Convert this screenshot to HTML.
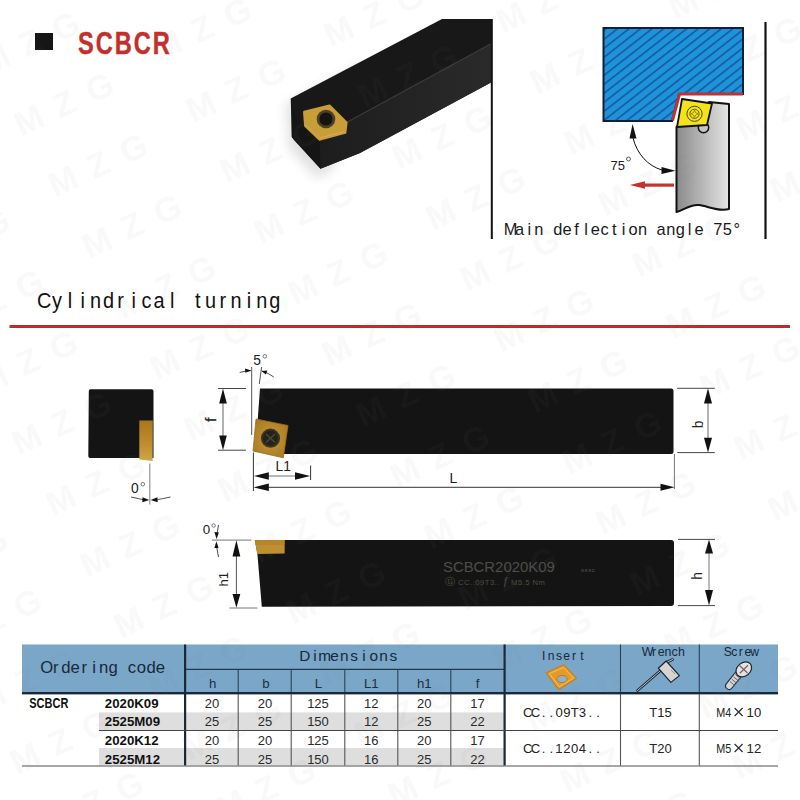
<!DOCTYPE html>
<html><head><meta charset="utf-8">
<style>
html,body{margin:0;padding:0;background:#fff;}
body{width:800px;height:800px;overflow:hidden;position:relative;font-family:"Liberation Sans",sans-serif;}
svg{position:absolute;left:0;top:0;}
</style></head><body>
<svg width="800" height="800" viewBox="0 0 800 800" font-family="Liberation Sans, sans-serif">
<defs>
  <pattern id="hatch" patternUnits="userSpaceOnUse" width="7.1" height="7.1" patternTransform="translate(603,30) rotate(52)">
    <rect width="7.1" height="7.1" fill="#1d93dc"/>
    <line x1="0.8" y1="0" x2="0.8" y2="7.1" stroke="#154c8c" stroke-width="1.3"/>
  </pattern>
  <linearGradient id="toolgray" x1="0" y1="0" x2="1" y2="0">
    <stop offset="0" stop-color="#8a8a8a"/>
    <stop offset="0.5" stop-color="#b8b8b8"/>
    <stop offset="1" stop-color="#e4e4e4"/>
  </linearGradient>
  <linearGradient id="gold1" x1="0" y1="0" x2="0" y2="1">
    <stop offset="0" stop-color="#a8781c"/>
    <stop offset="1" stop-color="#c89a3a"/>
  </linearGradient>
  <marker id="ah" viewBox="0 0 16 8" refX="16" refY="4" markerWidth="16" markerHeight="8" markerUnits="userSpaceOnUse" orient="auto-start-reverse">
    <path d="M0,0 L16,4 L0,8 z" fill="#111"/>
  </marker>
</defs>

<!-- ===== Title ===== -->
<rect x="35" y="33" width="18" height="17" fill="#161616"/>
<text transform="translate(78,53.5) scale(0.775,1)" font-size="30.5" font-weight="bold" fill="#c3302c" stroke="#c3302c" stroke-width="0.4" letter-spacing="2.5">SCBCR</text>

<!-- ===== 3D tool ===== -->
<defs>
  <linearGradient id="sideface" x1="0" y1="0" x2="1" y2="0">
    <stop offset="0" stop-color="#1d1d1d"/>
    <stop offset="1" stop-color="#2a2a2a"/>
  </linearGradient>
  <radialGradient id="shadow3d" cx="0.5" cy="0.5" r="0.5">
    <stop offset="0" stop-color="#000" stop-opacity="0.10"/>
    <stop offset="1" stop-color="#000" stop-opacity="0"/>
  </radialGradient>
</defs>
<g>
  <filter id="blur6" x="-20%" y="-20%" width="140%" height="140%"><feGaussianBlur stdDeviation="6"/></filter>
  <polygon points="286,104 360,66 380,72 330,172 316,178 289,148" fill="#000" opacity="0.12" filter="url(#blur6)"/>
  <!-- silhouette / top face -->
  <polygon points="290.7,98.4 442,19 491,19 491,82.5 360,153 320.5,168.7 294.6,140.6 291.8,137" fill="#181818"/>
  <!-- side face -->
  <polygon points="346.5,122.6 491,43.8 491,82.5 360,153 320.5,168.7 319.5,139.5 345.2,132.7" fill="url(#sideface)"/>
  <!-- end face lower part -->
  <polygon points="291.8,112 305.3,126 319.5,139.5 320.5,168.7 294.6,140.6 291.8,137" fill="#151515"/>
  <line x1="346.5" y1="122.6" x2="491" y2="43.8" stroke="#3c3c3c" stroke-width="1.1"/>
  <!-- insert -->
  <path d="M304.2,112 L329.5,105.7 L346.4,122.6 L345.2,132.7 L319.4,139.5 L305.3,126 z" fill="#c99d38" stroke="#c99d38" stroke-width="2.4" stroke-linejoin="round"/>
  <path d="M306,125 L319.6,138 L344.5,131.5" fill="none" stroke="#d8b050" stroke-width="1"/>
  <circle cx="326" cy="119" r="9.3" fill="#4a4228"/>
  <circle cx="326" cy="119" r="6.6" fill="#161410"/>
</g>

<!-- divider lines -->
<line x1="491.8" y1="19" x2="491.8" y2="239" stroke="#111" stroke-width="2"/>
<line x1="765.5" y1="22" x2="765.5" y2="239" stroke="#111" stroke-width="2.2"/>

<!-- ===== right diagram ===== -->
<g>
  <polygon points="603.5,28 743,28 743,94 679,94 672,121 603.5,121" fill="url(#hatch)" stroke="#0d1f3a" stroke-width="2"/>
  <polyline points="743,94 679.5,94 672.5,120.5" fill="none" stroke="#c03232" stroke-width="3"/>
  <!-- tool body -->
  <path d="M676.5,127 L709,102 L729,104 L729,209 C718,212 708,206 699,205 C690,204 684,210 676.5,212 z" fill="url(#toolgray)" stroke="#111" stroke-width="2" stroke-linejoin="round"/>
  <!-- insert -->
  <circle cx="703.5" cy="127.5" r="5.2" fill="#c4c4c4" stroke="#111" stroke-width="1.5"/>
  <polygon points="682,99 712,103.5 707,125 677,127" fill="#f4e21a" stroke="#111" stroke-width="1.8" stroke-linejoin="round"/>
  <circle cx="694.5" cy="113.8" r="7.6" fill="none" stroke="#3a3a10" stroke-width="0.9"/>
  <circle cx="694.5" cy="113.8" r="4.6" fill="none" stroke="#3a3a10" stroke-width="0.8"/>
  <path d="M694.5,110.2 L695.6,112.6 L698,113.8 L695.6,115 L694.5,117.4 L693.4,115 L691,113.8 L693.4,112.6 z" fill="none" stroke="#5a5a20" stroke-width="0.6"/>
  <!-- angle arc -->
  <path d="M633,138 C637,154 648,166 662,170" fill="none" stroke="#111" stroke-width="1"/>
  <polygon points="632.6,124 629.5,138.5 636.5,138.5" fill="#111"/>
  <polygon points="675.5,170.7 661.5,167 661.5,174" fill="#111"/>
  <text x="610.5" y="169.5" font-size="13" fill="#222">75</text>
  <circle cx="628.5" cy="159" r="2" fill="none" stroke="#333" stroke-width="0.8"/>
  <!-- red arrow -->
  <rect x="644" y="183.5" width="30" height="3.2" fill="#c8322c"/>
  <polygon points="629.8,185 645,181.3 645,188.7" fill="#c8322c"/>
</g>
<text x="503.75 515.10 527.61 534.28 553.32 562.57 574.13 584.13 590.83 600.57 611.88 621.83 628.50 637.91 656.42 666.18 675.80 687.77 694.47 713.29 722.74 733.43" y="235.40" font-size="16.40" fill="#1a1a1a" class="m1">Maindeflectionangle75°</text>

<!-- ===== Cylindrical turning ===== -->
<g transform="scale(0.9000,1)"><text x="41.10 57.90 75.18 89.41 99.91 114.38 130.26 146.25 157.21 170.51 188.88 216.60 227.84 243.95 256.23 274.16 284.66 299.13" y="308.20" font-size="22.10" fill="#111" class="m2">Cylindricalturning</text></g>
<rect x="9.5" y="325" width="780.5" height="3" fill="#b5302c"/>


<!-- ===== Technical drawing ===== -->
<defs>
  <linearGradient id="goldEnd" x1="0" y1="0" x2="0" y2="1">
    <stop offset="0" stop-color="#a9761c"/>
    <stop offset="0.6" stop-color="#c08e30"/>
    <stop offset="1" stop-color="#cfa64a"/>
  </linearGradient>
  <radialGradient id="goldIns" cx="0.5" cy="0.5" r="0.6">
    <stop offset="0" stop-color="#c89a3c"/>
    <stop offset="1" stop-color="#a87a22"/>
  </radialGradient>
</defs>
<g id="endview">
  <path d="M90.5,389.3 L151.5,389.3 Q153.5,389.3 153.5,391.3 L153.5,458 L90,458 Q88.3,458 88.3,456 L88.8,391.3 Q88.8,389.3 90.5,389.3 z" fill="#141414"/>
  <polygon points="139.3,420.5 152.8,420.5 152.6,461 139.3,459.5" fill="url(#goldEnd)"/>
  <line x1="149.8" y1="463.5" x2="149.8" y2="504.5" stroke="#8a8a8a" stroke-width="1.1"/>
  <text x="131" y="493.3" font-size="13.8" fill="#222">0</text>
  <circle cx="142.8" cy="484.2" r="1.8" fill="none" stroke="#444" stroke-width="0.7"/>
  <path d="M131,497 Q140,499 143,499.6" fill="none" stroke="#222" stroke-width="0.8"/>
  <polygon points="149.3,500 142.5,497.3 142.3,502.3" fill="#111"/>
  <path d="M170.5,497 Q161,499 157.5,499.6" fill="none" stroke="#222" stroke-width="0.8"/>
  <polygon points="150.6,500 157.5,497.3 157.7,502.3" fill="#111"/>
</g>

<g id="topview">
  <!-- 5 deg -->
  <text x="253.3" y="364.6" font-size="13.8" fill="#222">5</text>
  <circle cx="264.8" cy="356.3" r="1.8" fill="none" stroke="#444" stroke-width="0.7"/>
  <line x1="251.7" y1="367" x2="251.7" y2="435" stroke="#555" stroke-width="1"/>
  <line x1="261.6" y1="367" x2="259.3" y2="384" stroke="#555" stroke-width="1"/>
  <path d="M239.7,372.5 Q245,370.8 251,370.6" fill="none" stroke="#222" stroke-width="0.8"/>
  <polygon points="251.2,370.6 245,368.6 245.3,372.8" fill="#111"/>
  <path d="M273.8,377 Q268,372.8 261.8,371" fill="none" stroke="#222" stroke-width="0.8"/>
  <polygon points="261.6,370.9 267.3,370.5 265.8,374.5" fill="#111"/>
  <!-- body -->
  <path d="M260,388.5 L671,388.5 Q673.5,388.5 673.5,391 L673.5,451.5 Q673.5,454 671,454 L283,454 L257.7,420 z" fill="#141414"/>
  <!-- insert -->
  <polygon points="256,419 288,425.5 283.3,457.8 253,451" fill="url(#goldIns)" stroke="#9a6e1c" stroke-width="0.8" stroke-linejoin="round"/>
  <circle cx="270.5" cy="438.2" r="9.6" fill="#3b3620"/>
  <circle cx="270.5" cy="438.2" r="7.6" fill="#24231a"/>
  <path d="M266,434 L275,442.4 M275,434 L266,442.4" stroke="#4a4a3a" stroke-width="1.4"/>
  <!-- f dim -->
  <line x1="218" y1="388.5" x2="246" y2="388.5" stroke="#333" stroke-width="0.9"/>
  <line x1="218" y1="450.2" x2="246" y2="450.2" stroke="#333" stroke-width="0.9"/>
  <line x1="223" y1="400" x2="223" y2="440" stroke="#666" stroke-width="1"/>
  <polygon points="223,388.5 219.2,403.6 226.8,403.6" fill="#111"/>
  <polygon points="223,450.2 219.2,435.6 226.8,435.6" fill="#111"/>
  <text transform="translate(215.9,421.8) rotate(-90)" font-size="14.4" fill="#1a1a1a" stroke="#1a1a1a" stroke-width="0.3">f</text>
  <!-- b dim -->
  <line x1="677.2" y1="388.3" x2="714.8" y2="388.3" stroke="#333" stroke-width="0.9"/>
  <line x1="677.2" y1="452.6" x2="714.8" y2="452.6" stroke="#333" stroke-width="0.9"/>
  <line x1="708" y1="400" x2="708" y2="440" stroke="#666" stroke-width="1"/>
  <polygon points="708,388.3 704,403.4 712,403.4" fill="#111"/>
  <polygon points="708,452.6 704,437.8 712,437.8" fill="#111"/>
  <text transform="translate(702.9,428.3) rotate(-90)" font-size="13.8" fill="#222">b</text>
  <!-- L1 / L -->
  <line x1="253.4" y1="452.5" x2="253.4" y2="491" stroke="#333" stroke-width="1"/>
  <line x1="310.6" y1="465.5" x2="310.6" y2="480" stroke="#333" stroke-width="1"/>
  <line x1="265" y1="476" x2="300" y2="476" stroke="#777" stroke-width="1"/>
  <polygon points="253.6,476 268.8,472.3 268.8,479.7" fill="#111"/>
  <polygon points="310.2,476 295,472.3 295,479.7" fill="#111"/>
  <text x="275.6" y="470.7" font-size="13.8" fill="#222">L1</text>
  <line x1="674.4" y1="454" x2="674.4" y2="489" stroke="#777" stroke-width="1"/>
  <line x1="265" y1="487.3" x2="665" y2="487.3" stroke="#333" stroke-width="1"/>
  <polygon points="253.6,487.3 268.8,483.6 268.8,491" fill="#111"/>
  <polygon points="674.6,487.3 660.5,483.8 660.5,490.8" fill="#111"/>
  <text x="449.5" y="482.6" font-size="14" fill="#222">L</text>
</g>

<g id="sideview">
  <text x="202.8" y="534.2" font-size="13.4" fill="#222">0</text>
  <circle cx="213.6" cy="525.5" r="1.7" fill="none" stroke="#444" stroke-width="0.7"/>
  <line x1="218.5" y1="525" x2="216.8" y2="535" stroke="#222" stroke-width="0.8"/>
  <polygon points="216.6,539 214.4,532 218.8,532.4" fill="#111"/>
  <line x1="216.3" y1="545" x2="218.5" y2="557" stroke="#222" stroke-width="0.8"/>
  <polygon points="216.4,541.2 214.4,548 218.6,548" fill="#111"/>
  <line x1="212" y1="540.1" x2="251.3" y2="540.1" stroke="#777" stroke-width="1"/>
  <line x1="229.4" y1="608" x2="257.4" y2="608" stroke="#777" stroke-width="1"/>
  <line x1="236.4" y1="552" x2="236.4" y2="596" stroke="#555" stroke-width="1"/>
  <polygon points="236.4,540.3 232.5,556.4 240.3,556.4" fill="#111"/>
  <polygon points="236.4,607.8 232.5,594 240.3,594" fill="#111"/>
  <text transform="translate(227.7,586.5) rotate(-90)" font-size="13" fill="#222">h1</text>
  <!-- body -->
  <path d="M254.8,540 L671,540 Q674,540 674,543 L674,603 Q674,606 671,606 L261.8,606.8 L257.4,553.7 z" fill="#141414"/>
  <polygon points="254.8,540 284.6,540 284.6,553.4 257.3,554" fill="#c0902e"/>
  <polygon points="254.8,540 284.6,540 284.6,545 256,545" fill="#b08024" opacity="0.6"/>
  <text x="443" y="572.4" font-size="14.9" fill="#4e4e48" letter-spacing="0">SCBCR2020K09</text>
  <text x="581" y="572.3" font-size="6" fill="#55554f" letter-spacing="0.6">sssc</text>
  <text x="445" y="584.5" font-size="7.6" fill="#4e4e40" letter-spacing="0.5"><tspan font-size="10">&#x24BC;</tspan> CC..09T3..  <tspan font-size="10" font-style="italic">&#402;</tspan> M5.5 Nm</text>
  <!-- h dim -->
  <line x1="678" y1="539.4" x2="715" y2="539.4" stroke="#333" stroke-width="0.9"/>
  <line x1="678" y1="605.6" x2="715" y2="605.6" stroke="#333" stroke-width="0.9"/>
  <line x1="709" y1="552" x2="709" y2="592" stroke="#777" stroke-width="1"/>
  <polygon points="709,539.6 705,553.5 713,553.5" fill="#111"/>
  <polygon points="709,605.4 705,590 713,590" fill="#111"/>
  <text transform="translate(702.4,579.8) rotate(-90)" font-size="13.8" fill="#222">h</text>
</g>


<!-- ===== Table ===== -->
<g id="table">
  <rect x="22" y="644.5" width="756" height="49" fill="#7aa6c7"/>
  <rect x="99" y="712.4" width="405.5" height="17.8" fill="#dedede"/>
  <rect x="99" y="748" width="405.5" height="17.6" fill="#dedede"/>
  <!-- header lines -->
  <rect x="22" y="692" width="756" height="2.4" fill="#1b2838"/>
  <line x1="185" y1="669.3" x2="504.5" y2="669.3" stroke="#24384e" stroke-width="1.2"/>
  <!-- thick verticals -->
  <rect x="184" y="644.5" width="2.2" height="121.5" fill="#1b2838"/>
  <rect x="503.5" y="644.5" width="2.2" height="121.5" fill="#1b2838"/>
  <!-- thin verticals in header -->
  <g stroke="#2c4158" stroke-width="1.1">
    <line x1="238.2" y1="669.3" x2="238.2" y2="692"/>
    <line x1="291.2" y1="669.3" x2="291.2" y2="692"/>
    <line x1="344.8" y1="669.3" x2="344.8" y2="692"/>
    <line x1="397.8" y1="669.3" x2="397.8" y2="692"/>
    <line x1="450.8" y1="669.3" x2="450.8" y2="692"/>
    <line x1="620.5" y1="644.5" x2="620.5" y2="692"/>
    <line x1="699.3" y1="644.5" x2="699.3" y2="692"/>
  </g>
  <!-- thin verticals in body -->
  <g stroke="#555" stroke-width="1.1">
    <line x1="238.2" y1="694" x2="238.2" y2="766"/>
    <line x1="291.2" y1="694" x2="291.2" y2="766"/>
    <line x1="344.8" y1="694" x2="344.8" y2="766"/>
    <line x1="397.8" y1="694" x2="397.8" y2="766"/>
    <line x1="450.8" y1="694" x2="450.8" y2="766"/>
    <line x1="620.5" y1="694" x2="620.5" y2="766"/>
    <line x1="699.3" y1="694" x2="699.3" y2="766"/>
  </g>
  <line x1="99" y1="730.5" x2="778" y2="730.5" stroke="#444" stroke-width="1.1"/>
  <line x1="22" y1="766" x2="778" y2="766" stroke="#8a8a8a" stroke-width="1.5"/>

  <!-- header texts -->
  <g fill="#17283c">
    <text x="40.21 52.99 61.21 70.52 81.43 92.26 98.93 108.62 127.73 136.87 146.54 155.85" y="673.30" font-size="16.70" class="m3">Orderingcode</text>
    <text x="299.24 313.16 318.26 330.22 340.00 350.32 362.21 369.44 379.24 389.56" y="661.20" font-size="15.40" class="m4">Dimensions</text>
    <text x="541.88 547.85 555.91 563.19 571.88 580.13" y="659.90" font-size="12.10" class="m5">Insert</text>
    <text x="641.85 652.07 657.74 664.45 671.45 677.91" y="655.50" font-size="12.40" class="m6">Wrench</text>
    <text x="723.65 731.28 738.81 744.48 750.16" y="655.70" font-size="12.20" class="m7">Screw</text>
  </g>
  <g font-size="13.2" fill="#1d2e42" text-anchor="middle">
    <text x="212.6" y="687.8">h</text>
    <text x="265.8" y="687.8">b</text>
    <text x="318.5" y="687.8">L</text>
    <text x="371.3" y="687.8">L1</text>
    <text x="424.3" y="687.8">h1</text>
    <text x="477.6" y="687.8">f</text>
  </g>
  <!-- insert icon -->
  <g>
    <polygon points="563.7,664.7 576.4,678.2 558.9,689.6 546.2,673" fill="#e39a2a" stroke="#c97f16" stroke-width="1.2" stroke-linejoin="round"/>
    <polygon points="563.5,667.5 573.5,678 559.3,686.8 549.3,673.6" fill="none" stroke="#f6c060" stroke-width="1"/>
    <ellipse cx="562" cy="679" rx="5.2" ry="3.6" fill="#8fb2c9" stroke="#b87414" stroke-width="0.8"/>
  </g>
  <!-- wrench icon -->
  <g stroke="#1a2430" stroke-linejoin="round">
    <line x1="637.5" y1="690.5" x2="660" y2="671" stroke="#1a2430" stroke-width="2.6" stroke-linecap="round"/>
    <line x1="637.5" y1="690.5" x2="660" y2="671" stroke="#d8d8d8" stroke-width="0.9" stroke-linecap="round"/>
    <line x1="665" y1="663" x2="672.6" y2="659.5" stroke="#1a2430" stroke-width="2.6" stroke-linecap="round"/>
    <line x1="665" y1="663" x2="672.6" y2="659.5" stroke="#d8d8d8" stroke-width="0.9" stroke-linecap="round"/>
    <polygon points="658.3,668.2 666.2,661 679.4,675.6 670.9,682.4" fill="#d6d3d0" stroke-width="1.2"/>
    <line x1="671" y1="670" x2="675" y2="674" stroke="#888" stroke-width="0.8"/>
  </g>
  <!-- screw icon -->
  <g>
    <line x1="739.5" y1="673" x2="729.2" y2="685.8" stroke="#1f2a36" stroke-width="8.2" stroke-linecap="round"/>
    <line x1="739.5" y1="673" x2="729.2" y2="685.8" stroke="#d9d4d4" stroke-width="6" stroke-linecap="round"/>
    <g stroke="#5a5a66" stroke-width="0.9">
      <line x1="730" y1="681.5" x2="735.2" y2="685.8"/>
      <line x1="731.8" y1="679.2" x2="737" y2="683.5"/>
      <line x1="733.6" y1="676.9" x2="738.8" y2="681.2"/>
      <line x1="735.4" y1="674.6" x2="740.6" y2="678.9"/>
    </g>
    <ellipse cx="743.8" cy="669.4" rx="8.6" ry="6.6" transform="rotate(-40 743.8 669.4)" fill="#e6e2e2" stroke="#1f2a36" stroke-width="1.2"/>
    <path d="M739.5,665.5 L747.5,673 M748,665.2 L739.8,673.2" stroke="#7a6670" stroke-width="1.3"/>
  </g>

  <!-- body texts -->
  <g font-weight="bold" fill="#111">
    <text transform="translate(29.3,708.3) scale(0.79,1)" font-size="13.9">SCBCR</text>
    <text transform="translate(104.8,708.3) scale(1.02,1)" font-size="13">2020K09</text>
    <text transform="translate(104.8,726.4) scale(1.02,1)" font-size="13">2525M09</text>
    <text transform="translate(104.8,745.2) scale(1.02,1)" font-size="13">2020K12</text>
    <text transform="translate(104.8,763.5) scale(1.02,1)" font-size="13">2525M12</text>
  </g>
  <g font-size="13" fill="#2a2a2a" text-anchor="middle">
    <text x="212" y="708.2">20</text><text x="265" y="708.2">20</text><text x="318" y="708.2">125</text><text x="371.3" y="708.2">12</text><text x="424.3" y="708.2">20</text><text x="477.6" y="708.2">17</text>
    <text x="212" y="726.4">25</text><text x="265" y="726.4">25</text><text x="318" y="726.4">150</text><text x="371.3" y="726.4">12</text><text x="424.3" y="726.4">25</text><text x="477.6" y="726.4">22</text>
    <text x="212" y="745.2">20</text><text x="265" y="745.2">20</text><text x="318" y="745.2">125</text><text x="371.3" y="745.2">16</text><text x="424.3" y="745.2">20</text><text x="477.6" y="745.2">17</text>
    <text x="212" y="763.5">25</text><text x="265" y="763.5">25</text><text x="318" y="763.5">150</text><text x="371.3" y="763.5">16</text><text x="424.3" y="763.5">25</text><text x="477.6" y="763.5">22</text>
  </g>
  <g fill="#222">
    <text x="523.03 530.84 541.63 549.44 555.42 563.22 570.67 578.87 588.45 596.26" y="717.00" font-size="13.10" class="m8">CC..09T3..</text>
    <text x="523.03 530.84 541.63 549.44 555.24 563.22 571.02 578.87 588.45 596.26" y="753.00" font-size="13.10" class="m9">CC..1204..</text>
  </g>
  <g font-size="13" fill="#222">
    <text x="649.3" y="717.2">T15</text>
    <text x="649.3" y="753.2">T20</text>
    <text x="716.3" y="716.6" textLength="15" lengthAdjust="spacingAndGlyphs">M4</text><path d="M734.6,708.0 L742.6,716.0 M742.6,708.0 L734.6,716.0" stroke="#2a2a2a" stroke-width="1.15"/><text x="746.6" y="716.6" textLength="14.6" lengthAdjust="spacingAndGlyphs">10</text>
    <text x="716.3" y="752.6" textLength="15" lengthAdjust="spacingAndGlyphs">M5</text><path d="M734.6,744.0 L742.6,752.0 M742.6,744.0 L734.6,752.0" stroke="#2a2a2a" stroke-width="1.15"/><text x="746.6" y="752.6" textLength="14.6" lengthAdjust="spacingAndGlyphs">12</text>
  </g>
</g>

<g id="wm" font-family="Liberation Sans, sans-serif" font-weight="bold" font-size="34" fill="#7a7a7a" opacity="0.050" text-anchor="middle">
<g transform="translate(-4.0,-18.5) rotate(-25)"><text x="-39" y="12">M</text><text x="0" y="12">Z</text><text x="39" y="12">G</text></g>
<g transform="translate(168.0,-32.5) rotate(-25)"><text x="-39" y="12">M</text><text x="0" y="12">Z</text><text x="39" y="12">G</text></g>
<g transform="translate(340.0,-46.5) rotate(-25)"><text x="-39" y="12">M</text><text x="0" y="12">Z</text><text x="39" y="12">G</text></g>
<g transform="translate(30.0,42.5) rotate(-25)"><text x="-39" y="12">M</text><text x="0" y="12">Z</text><text x="39" y="12">G</text></g>
<g transform="translate(202.0,28.5) rotate(-25)"><text x="-39" y="12">M</text><text x="0" y="12">Z</text><text x="39" y="12">G</text></g>
<g transform="translate(374.0,14.5) rotate(-25)"><text x="-39" y="12">M</text><text x="0" y="12">Z</text><text x="39" y="12">G</text></g>
<g transform="translate(546.0,0.5) rotate(-25)"><text x="-39" y="12">M</text><text x="0" y="12">Z</text><text x="39" y="12">G</text></g>
<g transform="translate(718.0,-13.5) rotate(-25)"><text x="-39" y="12">M</text><text x="0" y="12">Z</text><text x="39" y="12">G</text></g>
<g transform="translate(64.0,103.5) rotate(-25)"><text x="-39" y="12">M</text><text x="0" y="12">Z</text><text x="39" y="12">G</text></g>
<g transform="translate(236.0,89.5) rotate(-25)"><text x="-39" y="12">M</text><text x="0" y="12">Z</text><text x="39" y="12">G</text></g>
<g transform="translate(408.0,75.5) rotate(-25)"><text x="-39" y="12">M</text><text x="0" y="12">Z</text><text x="39" y="12">G</text></g>
<g transform="translate(580.0,61.5) rotate(-25)"><text x="-39" y="12">M</text><text x="0" y="12">Z</text><text x="39" y="12">G</text></g>
<g transform="translate(752.0,47.5) rotate(-25)"><text x="-39" y="12">M</text><text x="0" y="12">Z</text><text x="39" y="12">G</text></g>
<g transform="translate(-74.0,178.5) rotate(-25)"><text x="-39" y="12">M</text><text x="0" y="12">Z</text><text x="39" y="12">G</text></g>
<g transform="translate(98.0,164.5) rotate(-25)"><text x="-39" y="12">M</text><text x="0" y="12">Z</text><text x="39" y="12">G</text></g>
<g transform="translate(270.0,150.5) rotate(-25)"><text x="-39" y="12">M</text><text x="0" y="12">Z</text><text x="39" y="12">G</text></g>
<g transform="translate(442.0,136.5) rotate(-25)"><text x="-39" y="12">M</text><text x="0" y="12">Z</text><text x="39" y="12">G</text></g>
<g transform="translate(614.0,122.5) rotate(-25)"><text x="-39" y="12">M</text><text x="0" y="12">Z</text><text x="39" y="12">G</text></g>
<g transform="translate(786.0,108.5) rotate(-25)"><text x="-39" y="12">M</text><text x="0" y="12">Z</text><text x="39" y="12">G</text></g>
<g transform="translate(-40.0,239.5) rotate(-25)"><text x="-39" y="12">M</text><text x="0" y="12">Z</text><text x="39" y="12">G</text></g>
<g transform="translate(132.0,225.5) rotate(-25)"><text x="-39" y="12">M</text><text x="0" y="12">Z</text><text x="39" y="12">G</text></g>
<g transform="translate(304.0,211.5) rotate(-25)"><text x="-39" y="12">M</text><text x="0" y="12">Z</text><text x="39" y="12">G</text></g>
<g transform="translate(476.0,197.5) rotate(-25)"><text x="-39" y="12">M</text><text x="0" y="12">Z</text><text x="39" y="12">G</text></g>
<g transform="translate(648.0,183.5) rotate(-25)"><text x="-39" y="12">M</text><text x="0" y="12">Z</text><text x="39" y="12">G</text></g>
<g transform="translate(820.0,169.5) rotate(-25)"><text x="-39" y="12">M</text><text x="0" y="12">Z</text><text x="39" y="12">G</text></g>
<g transform="translate(-6.0,300.5) rotate(-25)"><text x="-39" y="12">M</text><text x="0" y="12">Z</text><text x="39" y="12">G</text></g>
<g transform="translate(166.0,286.5) rotate(-25)"><text x="-39" y="12">M</text><text x="0" y="12">Z</text><text x="39" y="12">G</text></g>
<g transform="translate(338.0,272.5) rotate(-25)"><text x="-39" y="12">M</text><text x="0" y="12">Z</text><text x="39" y="12">G</text></g>
<g transform="translate(510.0,258.5) rotate(-25)"><text x="-39" y="12">M</text><text x="0" y="12">Z</text><text x="39" y="12">G</text></g>
<g transform="translate(682.0,244.5) rotate(-25)"><text x="-39" y="12">M</text><text x="0" y="12">Z</text><text x="39" y="12">G</text></g>
<g transform="translate(854.0,230.5) rotate(-25)"><text x="-39" y="12">M</text><text x="0" y="12">Z</text><text x="39" y="12">G</text></g>
<g transform="translate(28.0,361.5) rotate(-25)"><text x="-39" y="12">M</text><text x="0" y="12">Z</text><text x="39" y="12">G</text></g>
<g transform="translate(200.0,347.5) rotate(-25)"><text x="-39" y="12">M</text><text x="0" y="12">Z</text><text x="39" y="12">G</text></g>
<g transform="translate(372.0,333.5) rotate(-25)"><text x="-39" y="12">M</text><text x="0" y="12">Z</text><text x="39" y="12">G</text></g>
<g transform="translate(544.0,319.5) rotate(-25)"><text x="-39" y="12">M</text><text x="0" y="12">Z</text><text x="39" y="12">G</text></g>
<g transform="translate(716.0,305.5) rotate(-25)"><text x="-39" y="12">M</text><text x="0" y="12">Z</text><text x="39" y="12">G</text></g>
<g transform="translate(62.0,422.5) rotate(-25)"><text x="-39" y="12">M</text><text x="0" y="12">Z</text><text x="39" y="12">G</text></g>
<g transform="translate(234.0,408.5) rotate(-25)"><text x="-39" y="12">M</text><text x="0" y="12">Z</text><text x="39" y="12">G</text></g>
<g transform="translate(406.0,394.5) rotate(-25)"><text x="-39" y="12">M</text><text x="0" y="12">Z</text><text x="39" y="12">G</text></g>
<g transform="translate(578.0,380.5) rotate(-25)"><text x="-39" y="12">M</text><text x="0" y="12">Z</text><text x="39" y="12">G</text></g>
<g transform="translate(750.0,366.5) rotate(-25)"><text x="-39" y="12">M</text><text x="0" y="12">Z</text><text x="39" y="12">G</text></g>
<g transform="translate(-76.0,497.5) rotate(-25)"><text x="-39" y="12">M</text><text x="0" y="12">Z</text><text x="39" y="12">G</text></g>
<g transform="translate(96.0,483.5) rotate(-25)"><text x="-39" y="12">M</text><text x="0" y="12">Z</text><text x="39" y="12">G</text></g>
<g transform="translate(268.0,469.5) rotate(-25)"><text x="-39" y="12">M</text><text x="0" y="12">Z</text><text x="39" y="12">G</text></g>
<g transform="translate(440.0,455.5) rotate(-25)"><text x="-39" y="12">M</text><text x="0" y="12">Z</text><text x="39" y="12">G</text></g>
<g transform="translate(612.0,441.5) rotate(-25)"><text x="-39" y="12">M</text><text x="0" y="12">Z</text><text x="39" y="12">G</text></g>
<g transform="translate(784.0,427.5) rotate(-25)"><text x="-39" y="12">M</text><text x="0" y="12">Z</text><text x="39" y="12">G</text></g>
<g transform="translate(-42.0,558.5) rotate(-25)"><text x="-39" y="12">M</text><text x="0" y="12">Z</text><text x="39" y="12">G</text></g>
<g transform="translate(130.0,544.5) rotate(-25)"><text x="-39" y="12">M</text><text x="0" y="12">Z</text><text x="39" y="12">G</text></g>
<g transform="translate(302.0,530.5) rotate(-25)"><text x="-39" y="12">M</text><text x="0" y="12">Z</text><text x="39" y="12">G</text></g>
<g transform="translate(474.0,516.5) rotate(-25)"><text x="-39" y="12">M</text><text x="0" y="12">Z</text><text x="39" y="12">G</text></g>
<g transform="translate(646.0,502.5) rotate(-25)"><text x="-39" y="12">M</text><text x="0" y="12">Z</text><text x="39" y="12">G</text></g>
<g transform="translate(818.0,488.5) rotate(-25)"><text x="-39" y="12">M</text><text x="0" y="12">Z</text><text x="39" y="12">G</text></g>
<g transform="translate(-8.0,619.5) rotate(-25)"><text x="-39" y="12">M</text><text x="0" y="12">Z</text><text x="39" y="12">G</text></g>
<g transform="translate(164.0,605.5) rotate(-25)"><text x="-39" y="12">M</text><text x="0" y="12">Z</text><text x="39" y="12">G</text></g>
<g transform="translate(336.0,591.5) rotate(-25)"><text x="-39" y="12">M</text><text x="0" y="12">Z</text><text x="39" y="12">G</text></g>
<g transform="translate(508.0,577.5) rotate(-25)"><text x="-39" y="12">M</text><text x="0" y="12">Z</text><text x="39" y="12">G</text></g>
<g transform="translate(680.0,563.5) rotate(-25)"><text x="-39" y="12">M</text><text x="0" y="12">Z</text><text x="39" y="12">G</text></g>
<g transform="translate(852.0,549.5) rotate(-25)"><text x="-39" y="12">M</text><text x="0" y="12">Z</text><text x="39" y="12">G</text></g>
<g transform="translate(26.0,680.5) rotate(-25)"><text x="-39" y="12">M</text><text x="0" y="12">Z</text><text x="39" y="12">G</text></g>
<g transform="translate(198.0,666.5) rotate(-25)"><text x="-39" y="12">M</text><text x="0" y="12">Z</text><text x="39" y="12">G</text></g>
<g transform="translate(370.0,652.5) rotate(-25)"><text x="-39" y="12">M</text><text x="0" y="12">Z</text><text x="39" y="12">G</text></g>
<g transform="translate(542.0,638.5) rotate(-25)"><text x="-39" y="12">M</text><text x="0" y="12">Z</text><text x="39" y="12">G</text></g>
<g transform="translate(714.0,624.5) rotate(-25)"><text x="-39" y="12">M</text><text x="0" y="12">Z</text><text x="39" y="12">G</text></g>
<g transform="translate(60.0,741.5) rotate(-25)"><text x="-39" y="12">M</text><text x="0" y="12">Z</text><text x="39" y="12">G</text></g>
<g transform="translate(232.0,727.5) rotate(-25)"><text x="-39" y="12">M</text><text x="0" y="12">Z</text><text x="39" y="12">G</text></g>
<g transform="translate(404.0,713.5) rotate(-25)"><text x="-39" y="12">M</text><text x="0" y="12">Z</text><text x="39" y="12">G</text></g>
<g transform="translate(576.0,699.5) rotate(-25)"><text x="-39" y="12">M</text><text x="0" y="12">Z</text><text x="39" y="12">G</text></g>
<g transform="translate(748.0,685.5) rotate(-25)"><text x="-39" y="12">M</text><text x="0" y="12">Z</text><text x="39" y="12">G</text></g>
<g transform="translate(-78.0,816.5) rotate(-25)"><text x="-39" y="12">M</text><text x="0" y="12">Z</text><text x="39" y="12">G</text></g>
<g transform="translate(94.0,802.5) rotate(-25)"><text x="-39" y="12">M</text><text x="0" y="12">Z</text><text x="39" y="12">G</text></g>
<g transform="translate(266.0,788.5) rotate(-25)"><text x="-39" y="12">M</text><text x="0" y="12">Z</text><text x="39" y="12">G</text></g>
<g transform="translate(438.0,774.5) rotate(-25)"><text x="-39" y="12">M</text><text x="0" y="12">Z</text><text x="39" y="12">G</text></g>
<g transform="translate(610.0,760.5) rotate(-25)"><text x="-39" y="12">M</text><text x="0" y="12">Z</text><text x="39" y="12">G</text></g>
<g transform="translate(782.0,746.5) rotate(-25)"><text x="-39" y="12">M</text><text x="0" y="12">Z</text><text x="39" y="12">G</text></g>
<g transform="translate(300.0,849.5) rotate(-25)"><text x="-39" y="12">M</text><text x="0" y="12">Z</text><text x="39" y="12">G</text></g>
<g transform="translate(472.0,835.5) rotate(-25)"><text x="-39" y="12">M</text><text x="0" y="12">Z</text><text x="39" y="12">G</text></g>
<g transform="translate(644.0,821.5) rotate(-25)"><text x="-39" y="12">M</text><text x="0" y="12">Z</text><text x="39" y="12">G</text></g>
<g transform="translate(816.0,807.5) rotate(-25)"><text x="-39" y="12">M</text><text x="0" y="12">Z</text><text x="39" y="12">G</text></g>
</g>

</svg>
</body></html>
